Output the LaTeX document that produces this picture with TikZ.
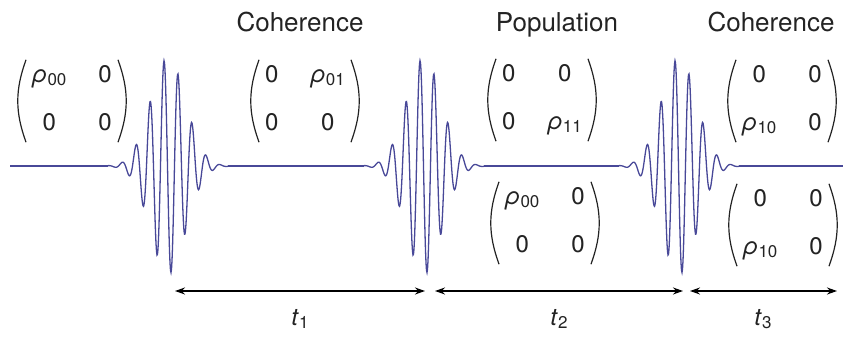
\documentclass[tikz,border=0pt]{standalone}
\usepackage{fontspec}
\setmainfont{TeX Gyre Heros}
\usetikzlibrary{arrows.meta}

\definecolor{pulseblue}{RGB}{72,72,152}
\definecolor{ink}{RGB}{35,35,35}
\setlength{\tabcolsep}{16pt}

% subscript, density matrix element and 2x2 matrix body
\newcommand{\idx}[1]{\raisebox{-0.25ex}{\fontsize{17}{17}\selectfont #1}}
\newcommand{\rh}[1]{\textit{ρ}\idx{#1}}
\newcommand{\dm}[4]{\begin{tabular}{@{}cc@{}}#1 & #2\\[19pt] #3 & #4\end{tabular}}

\tikzset{
  dmat/.style={inner xsep=6pt, inner ysep=2.5pt, text=ink},
  paren/.style={ink, line width=1.2pt},
  wave/.style={pulseblue, line width=1.3pt},
  delay/.style={{Stealth[length=10pt,width=7pt]}-{Stealth[length=10pt,width=7pt]}, line width=1.4pt},
  head/.style={text=ink, anchor=base},
  title/.style={head, font=\fontsize{26}{30}\selectfont},
}

\begin{document}
\begin{tikzpicture}[x=1pt, y=1pt, font=\fontsize{24}{29}\selectfont]
    \useasboundingbox (0,0) rectangle (843,340);

    % laser pulses on a flat baseline
    \draw[wave] (10,174) -- (108,174) (228,174) -- (364,174)
                (484,174) -- (619,174) (739,174) -- (843,174);
    \foreach \c/\a/\b in {168/108/228, 424/364/484, 679/619/739}
        \draw[wave] plot[domain=\a:\b, samples=241]
            (\x, {174+108*exp(-((\x-\c)/25)*((\x-\c)/25))*cos((\x-\c)*25.7143+103)});

    % titles
    \node[title] (coh1) at (300,308) {Coherence};
    \node[title] (pop) at (557,308) {Population};
    \node[title] (coh2) at (771,308) {Coherence};

    % density matrices
    \node[dmat] (m1) at (72,239) {\dm{\rh{00}}{0}{0}{0}};
    \node[dmat] (m2) at (305,239) {\dm{0}{\rh{01}}{0}{0}};
    \node[dmat] (m3) at (542,240) {\dm{0}{0}{0}{\rh{11}}};
    \node[dmat] (m4) at (545,117) {\dm{\rh{00}}{0}{0}{0}};
    \node[dmat] (m5) at (782,239) {\dm{0}{0}{\rh{10}}{0}};
    \node[dmat] (m6) at (783,115) {\dm{0}{0}{\rh{10}}{0}};

    \foreach \m in {m1,m2,m3,m4,m5,m6} {
        \draw[paren] (\m.north west) to[bend right=20] (\m.south west);
        \draw[paren] (\m.north east) to[bend left=20] (\m.south east);
    }

    % delay arrows
    \coordinate (d1a) at (175,49);
    \coordinate (d1b) at (425,49);
    \coordinate (d2a) at (435,49);
    \coordinate (d2b) at (683,49);
    \coordinate (d3a) at (690,49);
    \coordinate (d3b) at (837,49);
    \draw[delay] (d1a) -- (d1b);
    \draw[delay] (d2a) -- (d2b);
    \draw[delay] (d3a) -- (d3b);

    \node[head] (t1) at (300,15) {\textit{t}\idx{1}};
    \node[head] (t2) at (559,15) {\textit{t}\idx{2}};
    \node[head] (t3) at (763,15) {\textit{t}\idx{3}};
\end{tikzpicture}
\end{document}
